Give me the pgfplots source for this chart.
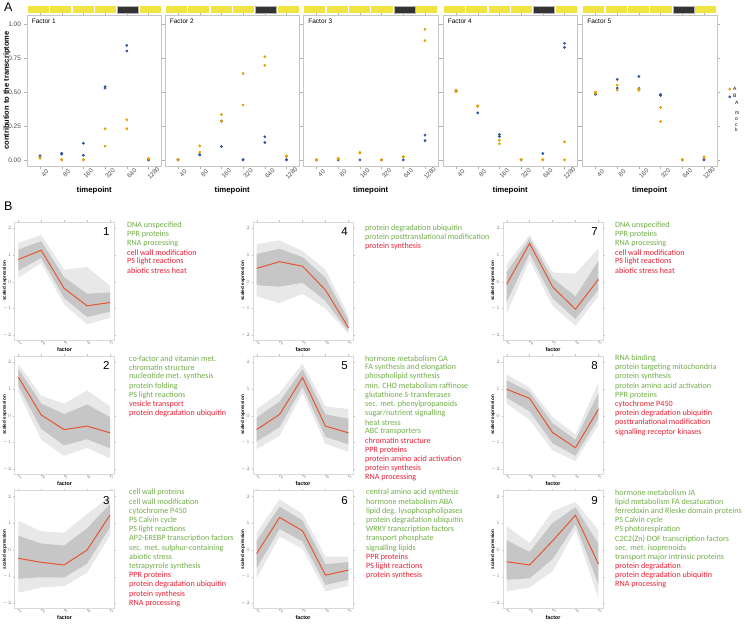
\documentclass[border=0pt]{standalone}
\usepackage{fontspec}
\setmainfont{Liberation Sans}
\newfontfamily\calibri{Carlito}
\usepackage{pgfplots}
\pgfplotsset{compat=1.18}

\definecolor{cOr}{RGB}{230,159,0}
\definecolor{cBl}{RGB}{50,84,160}
\definecolor{cYe}{RGB}{240,228,66}
\definecolor{cDk}{RGB}{51,51,51}
\definecolor{cRd}{RGB}{228,86,52}
\definecolor{lgreen}{RGB}{112,173,71}
\definecolor{lred}{RGB}{235,30,50}
\definecolor{tickg}{RGB}{77,77,77}

\pgfplotsset{
 topax/.style={scale only axis, width=134.5pt, height=151pt,
  xmin=0.4, xmax=6.6, ymin=-0.045, ymax=1.066, clip=false,
  xtick={1,2,3,4,5,6}, xticklabels={40,80,160,320,640,1280},
  ytick={0,0.25,0.5,0.75,1}, yticklabels={},
  axis line style={gray!45, line width=0.5pt},
  tick style={gray!60, line width=0.4pt}, tick align=outside, major tick length=2.5pt,
  x tick label style={rotate=45, anchor=center, inner sep=0pt, font=\fontsize{6.3}{7}\selectfont, text=tickg, yshift=-7pt},
  y tick label style={font=\fontsize{6.5}{7}\selectfont, text=tickg},
  xlabel={timepoint},
  xlabel style={font=\fontsize{7.8}{8}\selectfont\bfseries, at={(axis description cs:0.5,-0.162)}, anchor=center},
 },
 bl/.style={only marks, mark=*, mark size=1.2pt, cBl, mark options={fill=cBl, draw=cBl}},
 or/.style={only marks, mark=*, mark size=1.2pt, cOr, mark options={fill=cOr, draw=cOr}},
 botax/.style={scale only axis, width=100pt, height=118.3pt,
  xmin=0.84, xmax=5.2, ymin=-2.19, ymax=2.24,
  xtick={1,2,3,4,5}, ytick={-2,-1,0,1,2},
  axis line style={gray!30, line width=0.5pt},
  tick style={gray!50, line width=0.3pt}, tick align=outside, major tick length=1.5pt,
  tick label style={font=\fontsize{3.8}{4}\selectfont, text=gray},
  x tick label style={rotate=45, anchor=center, inner sep=0pt, yshift=-2.3pt},
  y tick label style={inner sep=1.5pt},
  xlabel={factor},
  xlabel style={font=\fontsize{5.3}{6}\selectfont\bfseries, at={(axis description cs:0.5,-0.08)}, anchor=center, inner sep=0pt},
  ylabel={scaled expression},
  ylabel style={font=\fontsize{4.6}{5}\selectfont\bfseries, at={(axis description cs:-0.1,0.5)}, anchor=center, inner sep=0pt},
 },
 outb/.style={draw=none, fill=gray!18},
 inb/.style={draw=none, fill=gray!45},
 meanl/.style={cRd, line width=1pt},
}

\newcommand{\strips}{%
 \fill[cYe] (rel axis cs:0.005,1.011) rectangle (rel axis cs:0.1617,1.060);
 \fill[cYe] (rel axis cs:0.1717,1.011) rectangle (rel axis cs:0.3283,1.060);
 \fill[cYe] (rel axis cs:0.3383,1.011) rectangle (rel axis cs:0.495,1.060);
 \fill[cYe] (rel axis cs:0.505,1.011) rectangle (rel axis cs:0.6617,1.060);
 \filldraw[fill=cDk, draw=gray!60, line width=0.4pt] (rel axis cs:0.6717,1.011) rectangle (rel axis cs:0.8283,1.060);
 \fill[cYe] (rel axis cs:0.8383,1.011) rectangle (rel axis cs:0.995,1.060);
}
\newcommand{\ftitle}[1]{\node[anchor=north west, inner sep=0pt, font=\fontsize{6.5}{7}\selectfont] at (rel axis cs:0.035,0.975) {#1};}
\newcommand{\bnum}[1]{\node[anchor=north east, inner sep=0pt, font=\fontsize{11.5}{12}\selectfont] at (rel axis cs:0.95,0.952) {#1};}

\newcommand{\listblock}[4]{%
 \foreach \itm [count=\i from 0] in {#4}{%
   \pgfmathsetmacro{\yy}{-(#2)-9.2*\i}%
   \ifnum\i<#3\relax\def\cc{lgreen}\else\def\cc{lred}\fi
   \node[anchor=west, inner sep=0pt, text=\cc, font=\fontsize{8.1}{9}\calibri] at (#1pt,\yy pt) {\itm};
 }}

\begin{document}
\begin{tikzpicture}
\useasboundingbox (0pt,0pt) rectangle (745pt,-624pt);

\node[anchor=north west, inner sep=0pt, font=\fontsize{12.5}{13}\selectfont] at (4pt,-2.5pt) {A};
\node[anchor=north west, inner sep=0pt, font=\fontsize{12.5}{13}\selectfont] at (4pt,-202pt) {B};

% ---------------- Panel A ----------------
\begin{axis}[topax, at={(27pt,-15pt)}, anchor=north west,
  yticklabels={0.00,0.25,0.50,0.75,1.00},
  ylabel={contribution to the transcriptome},
  ylabel style={font=\fontsize{7.5}{8}\selectfont\bfseries, at={(axis description cs:-0.149,0.5)}, anchor=center}]
\strips \ftitle{Factor 1}
\addplot[bl] coordinates {(1,0.027)(1,0.030)(2,0.049)(2,0.042)(3,0.123)(3,0.034)(4,0.538)(4,0.528)(5,0.843)(5,0.801)(6,0)(6,0.002)};
\addplot[or] coordinates {(1,0.017)(1,0.012)(2,0)(2,0.002)(3,0)(3,0.002)(4,0.229)(4,0.101)(5,0.295)(5,0.229)(6,0.012)(6,0.007)};
\end{axis}

\begin{axis}[topax, at={(165pt,-15pt)}, anchor=north west]
\strips \ftitle{Factor 2}
\addplot[bl] coordinates {(1,0)(1,0.001)(2,0.037)(2,0.040)(3,0.285)(3,0.098)(4,0)(4,0.002)(5,0.170)(5,0.128)(6,0)(6,0.003)};
\addplot[or] coordinates {(1,0)(1,0.002)(2,0.103)(2,0.057)(3,0.334)(3,0.287)(4,0.636)(4,0.403)(5,0.759)(5,0.695)(6,0.029)(6,0.025)};
\end{axis}

\begin{axis}[topax, at={(303.5pt,-15pt)}, anchor=north west]
\strips \ftitle{Factor 3}
\addplot[bl] coordinates {(1,0)(2,0)(3,0)(4,0)(5,0)(6,0.182)(6,0.142)};
\addplot[or] coordinates {(1,0)(1,0.002)(2,0.012)(2,0.008)(3,0.054)(3,0.050)(4,0)(4,0.001)(5,0.025)(5,0.020)(6,0.961)(6,0.877)};
\end{axis}

\begin{axis}[topax, at={(443pt,-15pt)}, anchor=north west]
\strips \ftitle{Factor 4}
\addplot[bl] coordinates {(1,0.508)(1,0.505)(2,0.346)(3,0.187)(3,0.172)(4,0)(5,0.047)(6,0.858)(6,0.828)};
\addplot[or] coordinates {(1,0.514)(1,0.504)(2,0.398)(2,0.394)(3,0.145)(3,0.118)(4,0)(4,0.002)(5,0)(5,0.002)(6,0.133)(6,0)};
\end{axis}

\begin{axis}[topax, at={(582.5pt,-15pt)}, anchor=north west,
  legend style={at={(rel axis cs:1.085,0.54)}, anchor=north west, draw=none, fill=none,
    font=\fontsize{5}{5}\selectfont, inner sep=0pt, row sep=-1.2pt, cells={anchor=west}},
  legend image code/.code={\draw[#1] plot coordinates {(0pt,0pt)};}]
\strips \ftitle{Factor 5}
\addlegendimage{or}\addlegendentry{A}
\addlegendimage{bl}\addlegendentry{B}
\addplot[bl, forget plot] coordinates {(1,0.482)(1,0.490)(2,0.592)(2,0.528)(3,0.614)(3,0.526)(4,0.482)(4,0.474)(5,0)(6,0)(6,0.003)};
\addplot[or, forget plot] coordinates {(1,0.499)(1,0.490)(2,0.550)(2,0.514)(3,0.520)(3,0.512)(4,0.386)(4,0.283)(5,0)(5,0.002)(6,0.022)(6,0.015)};
\end{axis}

\foreach \ch/\yy in {A/103, m/113.3, o/119, c/124.7, k/130}{
  \node[anchor=west, inner sep=0pt, font=\fontsize{5}{5}\selectfont] at (735pt,-\yy pt) {\ch};
}

% ---------------- Panel B ----------------
% row 1
\begin{axis}[botax, at={(14.6pt,-221.9pt)}, anchor=north west]
\addplot[outb] coordinates {(1,1.45)(2,1.75)(3,0.45)(4,0.55)(5,-0.15)(5,-1.35)(4,-1.60)(3,-0.85)(2,0.70)(1,0.15)};
\addplot[inb] coordinates {(1,1.20)(2,1.52)(3,0.17)(4,-0.45)(5,-0.40)(5,-1.12)(4,-1.32)(3,-0.61)(2,0.89)(1,0.42)};
\addplot[meanl] coordinates {(1,0.83)(2,1.18)(3,-0.25)(4,-0.90)(5,-0.78)};
\bnum{1}
\end{axis}

\begin{axis}[botax, at={(253pt,-221.9pt)}, anchor=north west]
\addplot[outb] coordinates {(1,1.40)(2,1.55)(3,1.15)(4,0.45)(5,-1.25)(5,-1.95)(4,-1.00)(3,-0.45)(2,-0.80)(1,-0.55)};
\addplot[inb] coordinates {(1,1.04)(2,1.23)(3,0.92)(4,0.15)(5,-1.44)(5,-1.86)(4,-0.72)(3,-0.04)(2,-0.18)(1,-0.13)};
\addplot[meanl] coordinates {(1,0.50)(2,0.75)(3,0.58)(4,-0.31)(5,-1.72)};
\bnum{4}
\end{axis}

\begin{axis}[botax, at={(503pt,-221.9pt)}, anchor=north west]
\addplot[outb] coordinates {(1,0.65)(2,1.75)(3,0.35)(4,0.30)(5,1.25)(5,-0.55)(4,-1.65)(3,-0.90)(2,0.80)(1,-1.20)};
\addplot[inb] coordinates {(1,0.35)(2,1.62)(3,0.13)(4,-0.55)(5,0.79)(5,-0.29)(4,-1.40)(3,-0.62)(2,1.05)(1,-0.76)};
\addplot[meanl] coordinates {(1,-0.09)(2,1.43)(3,-0.19)(4,-1.03)(5,0.09)};
\bnum{7}
\end{axis}

% row 2
\begin{axis}[botax, at={(14.6pt,-355.9pt)}, anchor=north west]
\addplot[outb] coordinates {(1,1.95)(2,0.75)(3,0.45)(4,0.95)(5,0.35)(5,-1.60)(4,-1.20)(3,-1.50)(2,-0.90)(1,0.90)};
\addplot[inb] coordinates {(1,1.75)(2,0.46)(3,0.06)(4,0.42)(5,-0.05)(5,-1.22)(4,-0.88)(3,-1.11)(2,-0.49)(1,1.12)};
\addplot[meanl] coordinates {(1,1.45)(2,0.03)(3,-0.52)(4,-0.39)(5,-0.64)};
\bnum{2}
\end{axis}

\begin{axis}[botax, at={(253pt,-355.9pt)}, anchor=north west]
\addplot[outb] coordinates {(1,0.25)(2,0.85)(3,1.95)(4,0.35)(5,0.25)(5,-1.35)(4,-1.05)(3,0.85)(2,-0.75)(1,-1.25)};
\addplot[inb] coordinates {(1,-0.06)(2,0.53)(3,1.74)(4,0.05)(5,-0.11)(5,-1.07)(4,-0.79)(3,1.08)(2,-0.43)(1,-0.96)};
\addplot[meanl] coordinates {(1,-0.52)(2,0.05)(3,1.43)(4,-0.39)(5,-0.64)};
\bnum{5}
\end{axis}

\begin{axis}[botax, at={(503pt,-355.9pt)}, anchor=north west]
\addplot[outb] coordinates {(1,1.55)(2,1.05)(3,-0.05)(4,-0.70)(5,1.25)(5,-0.35)(4,-1.70)(3,-1.30)(2,-0.15)(1,0.45)};
\addplot[inb] coordinates {(1,1.33)(2,0.89)(3,-0.28)(4,-0.90)(5,0.85)(5,-0.11)(4,-1.50)(3,-1.03)(2,0.17)(1,0.67)};
\addplot[meanl] coordinates {(1,0.99)(2,0.65)(3,-0.63)(4,-1.20)(5,0.24)};
\bnum{8}
\end{axis}

% row 3
\begin{axis}[botax, at={(14.6pt,-490.2pt)}, anchor=north west]
\addplot[outb] coordinates {(1,1.10)(2,0.70)(3,0.65)(4,1.35)(5,2.00)(5,0.55)(4,-0.85)(3,-1.35)(2,-1.40)(1,-1.60)};
\addplot[inb] coordinates {(1,0.54)(2,0.24)(3,0.17)(4,0.81)(5,1.72)(5,0.85)(4,-0.51)(3,-1.03)(2,-1.02)(1,-1.08)};
\addplot[meanl] coordinates {(1,-0.31)(2,-0.46)(3,-0.56)(4,0.00)(5,1.31)};
\bnum{3}
\end{axis}

\begin{axis}[botax, at={(253pt,-490.2pt)}, anchor=north west]
\addplot[outb] coordinates {(1,0.65)(2,1.90)(3,1.35)(4,-0.25)(5,-0.25)(5,-1.35)(4,-1.55)(3,0.05)(2,0.50)(1,-1.05)};
\addplot[inb] coordinates {(1,0.34)(2,1.63)(3,1.10)(4,-0.53)(5,-0.45)(5,-1.11)(4,-1.31)(3,0.32)(2,0.79)(1,-0.68)};
\addplot[meanl] coordinates {(1,-0.13)(2,1.22)(3,0.72)(4,-0.94)(5,-0.75)};
\bnum{6}
\end{axis}

\begin{axis}[botax, at={(503pt,-490.2pt)}, anchor=north west]
\addplot[outb] coordinates {(1,0.90)(2,0.25)(3,1.45)(4,1.80)(5,0.75)(5,-1.80)(4,0.75)(3,-0.80)(2,-1.40)(1,-1.55)};
\addplot[inb] coordinates {(1,0.36)(2,-0.07)(3,1.01)(4,1.60)(5,0.24)(5,-1.29)(4,0.97)(3,-0.34)(2,-1.06)(1,-1.11)};
\addplot[meanl] coordinates {(1,-0.44)(2,-0.56)(3,0.34)(4,1.30)(5,-0.52)};
\bnum{9}
\end{axis}

% ---------------- lists ----------------
\listblock{127}{225}{3}{DNA unspecified,PPR proteins,RNA processing,cell wall modification,PS light reactions,abiotic stress heat}
\listblock{129}{358.3}{5}{co-factor and vitamin met.,chromatin structure,nucleotide met. synthesis,protein folding,PS light reactions,vesicle transport,protein degradation ubiquitin}
\listblock{129}{492.7}{9}{cell wall  proteins,cell wall modification,cytochrome P450,PS Calvin cycle,PS light reactions,AP2-EREBP transcription factors,sec. met. sulphur-containing,abiotic stress,tetrapyrrole synthesis,PPR proteins,protein degradation ubiquitin,protein synthesis,RNA processing}
\listblock{365}{228}{2}{protein degradation ubiquitin,protein posttranslational modification,protein synthesis}
\listblock{365}{358.3}{9}{hormone metabolism GA,FA synthesis and elongation,phospholipid synthesis,min. CHO metabolism raffinose,glutathione S-transferases,sec. met. phenylpropanoids,sugar/nutrient signalling,heat stress,ABC transporters,chromatin structure,PPR proteins,protein amino acid activation,protein synthesis,RNA processing}
\listblock{366}{492.7}{7}{central amino acid synthesis,hormone metabolism ABA,lipid deg. lysophospholipases,protein degradation ubiquitin,WRKY transcription factors,transport phosphate,signalling lipids,PPR proteins,PS light reactions,protein synthesis}
\listblock{615}{225}{3}{DNA unspecified,PPR proteins,RNA processing,cell wall modification,PS light reactions,abiotic stress heat}
\listblock{615}{358.3}{5}{RNA binding,protein targeting mitochondria,protein synthesis,protein amino acid activation,PPR proteins,cytochrome P450,protein degradation ubiquitin,posttranlational modification,signalling receptor kinases}
\listblock{615}{492.7}{8}{hormone metabolism JA,lipid metabolism FA desaturation,ferredoxin and Rieske domain proteins,PS Calvin cycle,PS photorespiration,C2C2(Zn) DOF transcription factors,sec. met. isoprenoids,transport major intrinsic proteins,protein degradation,protein degradation ubiquitin,RNA processing}

\end{tikzpicture}
\end{document}
